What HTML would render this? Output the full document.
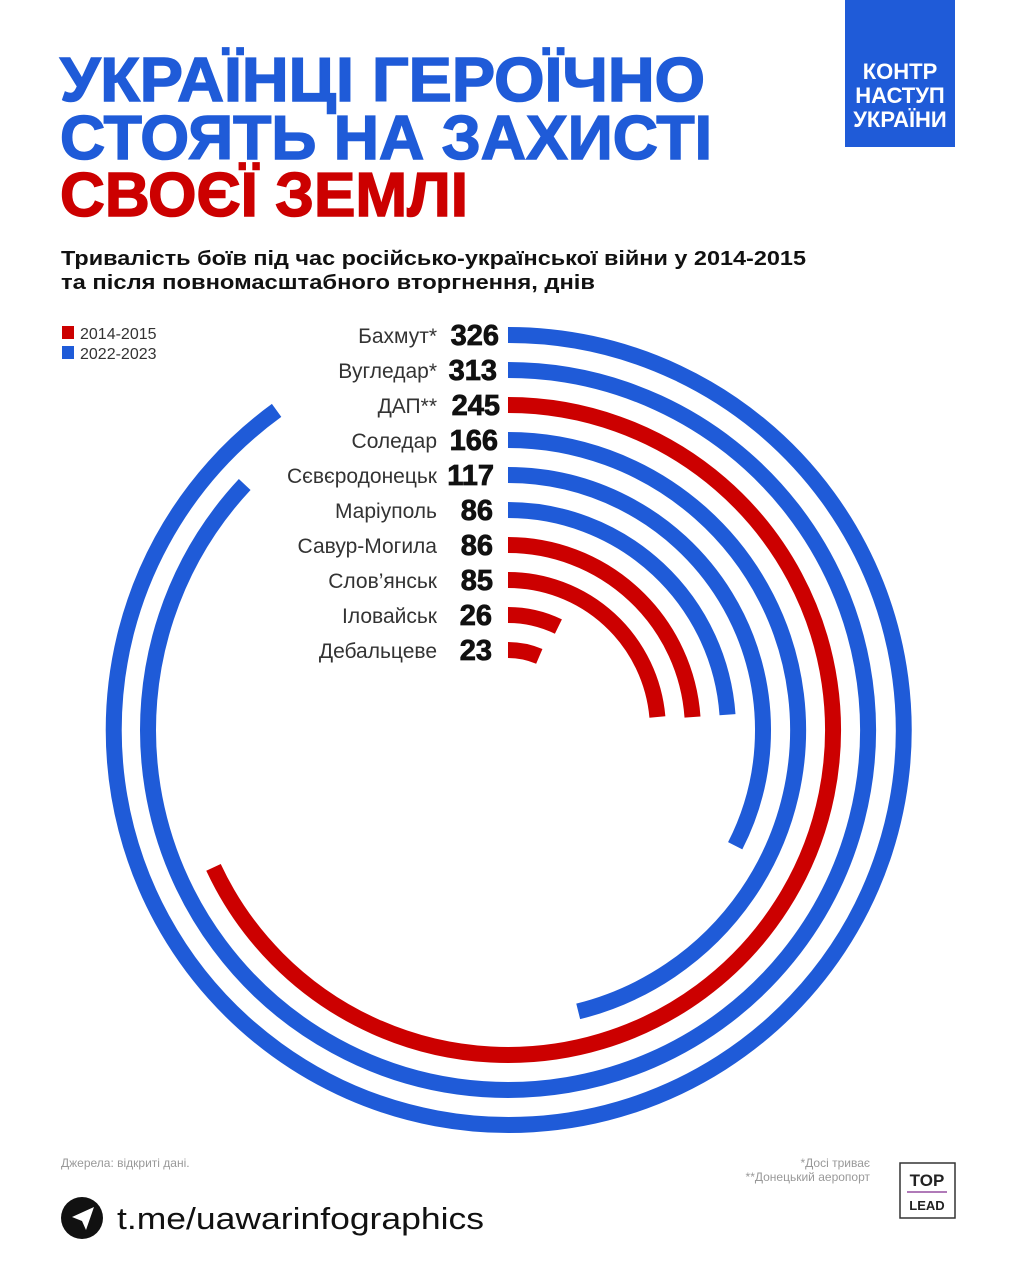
<!DOCTYPE html>
<html><head><meta charset="utf-8"><style>
body{margin:0;background:#fff;}
svg{display:block}
</style></head><body>
<svg width="1016" height="1280" viewBox="0 0 1016 1280" xmlns="http://www.w3.org/2000/svg" font-family="Liberation Sans, DejaVu Sans, sans-serif">
<rect width="1016" height="1280" fill="#fff"/>
<rect x="845" y="0" width="110" height="147" fill="#1f5bd8"/>
<g fill="#fff" font-weight="bold" font-size="22" text-anchor="middle">
<text x="900" y="79">КОНТР</text>
<text x="900" y="103">НАСТУП</text>
<text x="900" y="127">УКРАЇНИ</text>
</g>
<g font-weight="900" font-size="62" fill="#1f5bd8" stroke="#1f5bd8" stroke-width="1.5">
<text x="60" y="101" textLength="645" lengthAdjust="spacingAndGlyphs">УКРАЇНЦІ ГЕРОЇЧНО</text>
<text x="60" y="159" textLength="652" lengthAdjust="spacingAndGlyphs">СТОЯТЬ НА ЗАХИСТІ</text>
<text x="60" y="216" fill="#cc0000" stroke="#cc0000" textLength="408" lengthAdjust="spacingAndGlyphs">СВОЄЇ ЗЕМЛІ</text>
</g>
<g font-weight="bold" font-size="20" fill="#111">
<text x="61" y="265" textLength="745" lengthAdjust="spacingAndGlyphs">Тривалість боїв під час російсько-української війни у 2014-2015</text>
<text x="61" y="289" textLength="534" lengthAdjust="spacingAndGlyphs">та після повномасштабного вторгнення, днів</text>
</g>
<rect x="62" y="326" width="12" height="13" fill="#cc0000"/>
<rect x="62" y="346" width="12" height="13" fill="#1f5bd8"/>
<g font-size="16" fill="#333"><text x="80" y="339">2014-2015</text><text x="80" y="359">2022-2023</text></g>
<g fill="none" stroke-width="16">
<path d="M508 335 A395 395 0 1 1 276.6 410.4" stroke="#1f5bd8"/>
<path d="M508 370 A360 360 0 1 1 244.7 484.5" stroke="#1f5bd8"/>
<path d="M508 405 A325 325 0 1 1 213.5 867.4" stroke="#cc0000"/>
<path d="M508 440 A290 290 0 0 1 578.2 1011.4" stroke="#1f5bd8"/>
<path d="M508 475 A255 255 0 0 1 735.2 845.8" stroke="#1f5bd8"/>
<path d="M508 510 A220 220 0 0 1 727.5 714.7" stroke="#1f5bd8"/>
<path d="M508 545 A185 185 0 0 1 692.5 717.1" stroke="#cc0000"/>
<path d="M508 580 A150 150 0 0 1 657.4 717.0" stroke="#cc0000"/>
<path d="M508 615 A115 115 0 0 1 558.4 626.6" stroke="#cc0000"/>
<path d="M508 650 A80 80 0 0 1 539.3 656.4" stroke="#cc0000"/>
</g>
<g font-size="21" fill="#333" text-anchor="end">
<text x="437" y="343">Бахмут*</text>
<text x="437" y="378">Вугледар*</text>
<text x="437" y="413">ДАП**</text>
<text x="437" y="448">Соледар</text>
<text x="437" y="483">Сєвєродонецьк</text>
<text x="437" y="518">Маріуполь</text>
<text x="437" y="553">Савур-Могила</text>
<text x="437" y="588">Слов’янськ</text>
<text x="437" y="623">Іловайськ</text>
<text x="437" y="658">Дебальцеве</text>
</g>
<g font-size="29" font-weight="900" fill="#111" stroke="#111" stroke-width="0.8" text-anchor="end">
<text x="499" y="345">326</text>
<text x="497" y="380">313</text>
<text x="500" y="415">245</text>
<text x="498" y="450">166</text>
<text x="494" y="485">117</text>
<text x="493" y="520">86</text>
<text x="493" y="555">86</text>
<text x="493" y="590">85</text>
<text x="492" y="625">26</text>
<text x="492" y="660">23</text>
</g>
<text x="61" y="1167" font-size="12" fill="#999">Джерела: відкриті дані.</text>
<g font-size="12" fill="#999" text-anchor="end"><text x="870" y="1167">*Досі триває</text><text x="870" y="1181">**Донецький аеропорт</text></g>
<rect x="900" y="1163" width="55" height="55" fill="#fff" stroke="#333" stroke-width="1.5"/>
<text x="927" y="1186" font-size="17" font-weight="bold" fill="#222" text-anchor="middle">TOP</text>
<rect x="907" y="1191" width="40" height="2" fill="#b07ab8"/>
<text x="927" y="1210" font-size="13" font-weight="bold" fill="#222" text-anchor="middle">LEAD</text>
<circle cx="82" cy="1218" r="21" fill="#111"/>
<path d="M72 1217 L94 1207 L86 1230 L82 1221 Z" fill="#fff"/>
<text x="117" y="1229" font-size="31" fill="#111" textLength="367" lengthAdjust="spacingAndGlyphs">t.me/uawarinfographics</text>
</svg>
</body></html>
